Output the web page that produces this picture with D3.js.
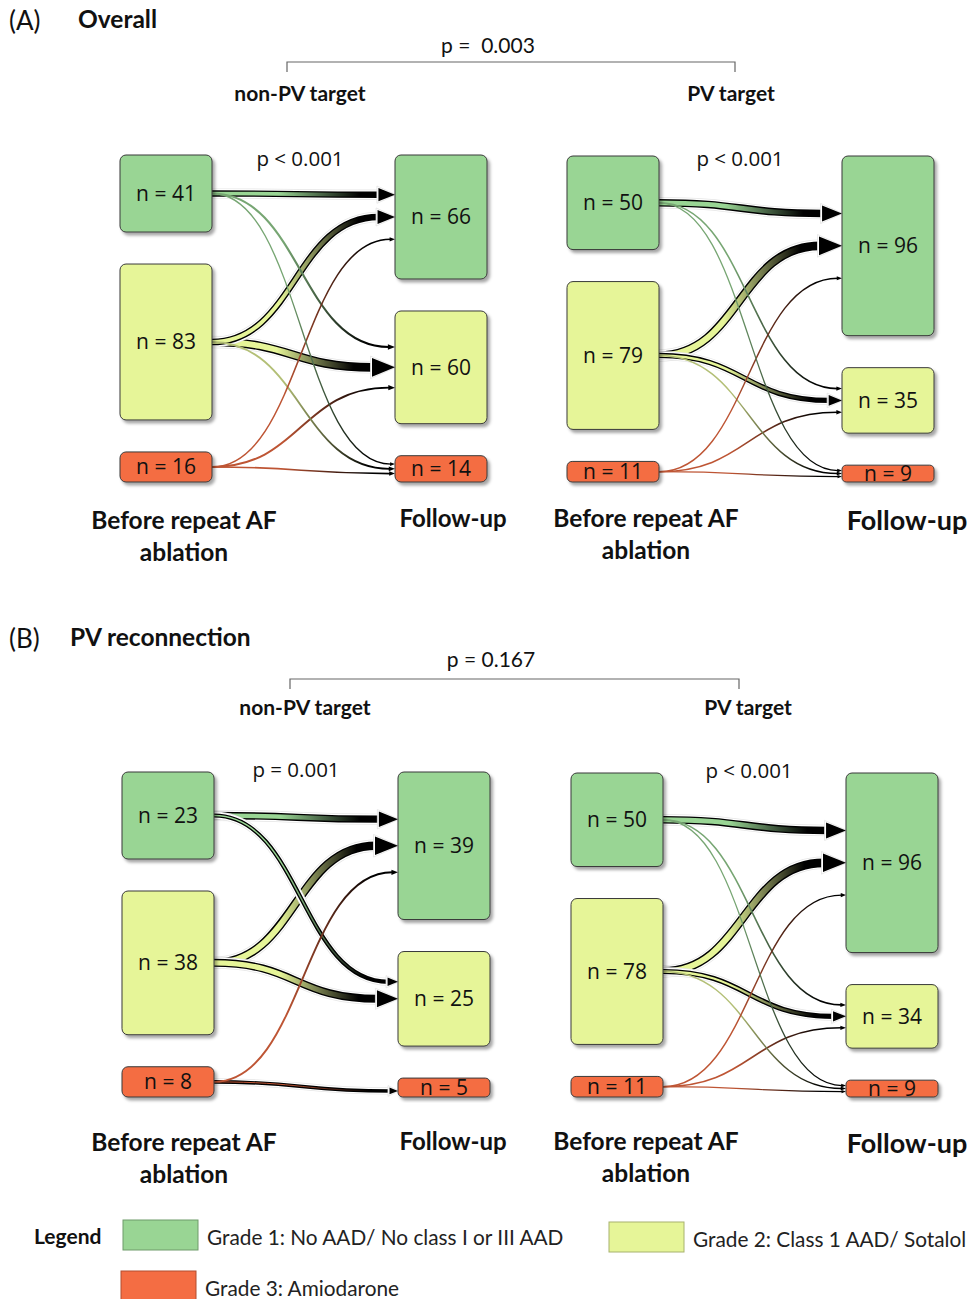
<!DOCTYPE html>
<html>
<head>
<meta charset="utf-8">
<script src="https://cdn.jsdelivr.net/npm/d3@7"></script>
<style>
  body { margin: 0; background: #fff; }
  svg { display: block; }
  text { white-space: pre; }
</style>
</head>
<body>
<svg id="chart"></svg>
<script>
// grades and their colours
const grades = ['Grade 1', 'Grade 2', 'Grade 3'];
const gradeColors = ['#99d594', '#e6f598', '#f46d43'];
const legendLabels = [
  'Grade 1: No AAD/ No class I or III AAD',
  'Grade 2: Class 1 AAD/ Sotalol',
  'Grade 3: Amiodarone',
];

// (A) overall, non-PV target
const overallNonPvBefore = [41, 83, 16];
const overallNonPvAfter = [66, 60, 14];
const overallNonPvFlows = [[30, 8, 3], [32, 45, 6], [4, 7, 5]];

// (A) overall, PV target
const overallPvBefore = [50, 79, 11];
const overallPvAfter = [96, 35, 9];
const overallPvFlows = [[42, 5, 3], [50, 25, 4], [4, 5, 2]];

// (B) PV reconnection, non-PV target
const reconNonPvBefore = [23, 38, 8];
const reconNonPvAfter = [39, 25, 5];
const reconNonPvFlows = [[16, 7, 0], [20, 18, 0], [3, 0, 5]];

// (B) PV reconnection, PV target
const reconPvBefore = [50, 78, 11];
const reconPvAfter = [96, 34, 9];
const reconPvFlows = [[42, 5, 3], [50, 24, 4], [4, 5, 2]];

// p-values and labels
const panelPValues = ['p < 0.001', 'p < 0.001', 'p = 0.001', 'p < 0.001'];
const groupPValues = ['p =  0.003', 'p = 0.167'];
const sectionLabels = ['(A)', '(B)'];
const sectionTitles = ['Overall', 'PV reconnection'];
const targetLabels = ['non-PV target', 'PV target'];

const cfg = {
  width: 971,
  height: 1299,
  nodeW: 92,
  gap: 32,
  calibri: 'Lato, "Open Sans", sans-serif',
  sans: '"Open Sans", "DejaVu Sans", sans-serif',
};

const panels = [
  { before: overallNonPvBefore, after: overallNonPvAfter, flows: overallNonPvFlows,
    srcX: 120, tgtX: 395, top: 155, bottom: 482, pX: 300, pY: 166,
    beforeX: 184, beforeY: 529, followX: 453, followY: 527, followSize: 24 },
  { before: overallPvBefore, after: overallPvAfter, flows: overallPvFlows,
    srcX: 567, tgtX: 842, top: 156, bottom: 482, pX: 740, pY: 166,
    beforeX: 646, beforeY: 527, followX: 907, followY: 530, followSize: 27 },
  { before: reconNonPvBefore, after: reconNonPvAfter, flows: reconNonPvFlows,
    srcX: 122, tgtX: 398, top: 772, bottom: 1097, pX: 296, pY: 777,
    beforeX: 184, beforeY: 1151, followX: 453, followY: 1150, followSize: 24 },
  { before: reconPvBefore, after: reconPvAfter, flows: reconPvFlows,
    srcX: 571, tgtX: 846, top: 773, bottom: 1097, pX: 749, pY: 778,
    beforeX: 646, beforeY: 1150, followX: 907, followY: 1153, followSize: 27 },
];

const sections = [
  { labelY: 30, titleX: 78, pX: 488, pY: 53, bracketY: 62, bx1: 287, bx2: 735,
    targetY: 101, targetX: [300, 731] },
  { labelY: 648, titleX: 70, pX: 491, pY: 667, bracketY: 679, bx1: 290, bx2: 739,
    targetY: 715, targetX: [305, 748] },
];

const svg = d3.select('#chart')
  .attr('width', cfg.width)
  .attr('height', cfg.height);

const defs = svg.append('defs');

// node drop shadow
const shadow = defs.append('filter')
  .attr('id', 'shadow')
  .attr('x', '-20%').attr('y', '-20%')
  .attr('width', '140%').attr('height', '150%');
shadow.append('feDropShadow')
  .attr('dx', 2.5).attr('dy', 3)
  .attr('stdDeviation', 1.6)
  .attr('flood-color', '#000')
  .attr('flood-opacity', 0.35);

// section headers, brackets and target labels
sections.forEach((s, si) => {
  svg.append('text')
    .text(sectionLabels[si])
    .attr('x', 9).attr('y', s.labelY)
    .style('font-family', cfg.calibri)
    .style('font-size', '26px')
    .attr('fill', '#111');

  svg.append('text')
    .text(sectionTitles[si])
    .attr('x', s.titleX).attr('y', s.labelY - 2)
    .style('font-family', cfg.calibri)
    .style('font-weight', 'bold')
    .style('font-size', '24.5px')
    .attr('fill', '#111');

  svg.append('text')
    .text(groupPValues[si])
    .attr('x', s.pX).attr('y', s.pY)
    .attr('text-anchor', 'middle')
    .style('font-family', cfg.calibri)
    .style('font-size', '21px')
    .attr('fill', '#111');

  svg.append('path')
    .attr('d', `M${s.bx1},${s.bracketY + 10}V${s.bracketY}H${s.bx2}V${s.bracketY + 10}`)
    .attr('fill', 'none')
    .attr('stroke', '#666')
    .attr('stroke-width', 1.2);

  targetLabels.forEach((t, ti) => {
    svg.append('text')
      .text(t)
      .attr('x', s.targetX[ti]).attr('y', s.targetY)
      .attr('text-anchor', 'middle')
      .style('font-family', cfg.calibri)
      .style('font-weight', 'bold')
      .style('font-size', '21px')
      .attr('fill', '#111');
  });
});

// draw one sankey-like panel
function drawPanel(p, pi) {
  const g = svg.append('g').attr('class', 'panel');
  const innerH = p.bottom - p.top - 2 * cfg.gap;

  const layout = values => {
    const total = d3.sum(values);
    const y = d3.scaleLinear().domain([0, total]).range([0, innerH]);
    let acc = 0;
    return values.map((v, i) => {
      const node = { value: v, grade: i, y0: p.top + y(acc) + i * cfg.gap };
      node.y1 = node.y0 + y(v);
      acc += v;
      return node;
    });
  };

  const srcNodes = layout(p.before);
  const tgtNodes = layout(p.after);

  // arrival point of each source inside a target node
  const arrive = d3.scaleLinear().domain([0, 2]).range([0.32, 0.68]);

  // flow widths
  const maxFlow = d3.max(p.flows.flat());
  const w = d3.scaleLinear().domain([0, maxFlow]).range([0.6, 7.5]);

  const links = [];
  p.flows.forEach((row, si) => {
    row.forEach((v, ti) => {
      if (v > 0) links.push({ source: si, target: ti, value: v });
    });
  });
  links.sort((a, b) => b.value - a.value);

  const x0 = p.srcX + cfg.nodeW;
  const x1 = p.tgtX;

  links.forEach((l, li) => {
    const s = srcNodes[l.source];
    const t = tgtNodes[l.target];
    const ys = (s.y0 + s.y1) / 2;
    const yt = t.y0 + (t.y1 - t.y0) * arrive(l.source);
    const lw = w(l.value);
    const arrowLen = 2.8 * lw + 2;
    const arrowHalf = 1.15 * lw + 0.7;
    const xe = x1 - arrowLen + 1;
    const xm = (x0 + xe) / 2;
    const d = `M${x0},${ys}C${xm},${ys} ${xm},${yt} ${xe},${yt}`;

    const gid = `grad-${pi}-${li}`;
    const base = gradeColors[l.source];
    const startCol = lw > 2.2 ? base : d3.color(base).darker(0.7).formatHex();
    const grad = defs.append('linearGradient')
      .attr('id', gid)
      .attr('gradientUnits', 'userSpaceOnUse')
      .attr('x1', x0).attr('y1', 0)
      .attr('x2', xe).attr('y2', 0);
    grad.append('stop').attr('offset', 0).attr('stop-color', startCol);
    grad.append('stop').attr('offset', 0.4).attr('stop-color', startCol);
    grad.append('stop').attr('offset', 0.88).attr('stop-color', '#000');

    const lg = g.append('g').attr('class', 'link');

    if (lw > 2.2) {
      // white halo
      lg.append('path').attr('d', d).attr('fill', 'none')
        .attr('stroke', '#e6e6e6').attr('stroke-width', lw + 5);
      lg.append('path').attr('d', d).attr('fill', 'none')
        .attr('stroke', '#fff').attr('stroke-width', lw + 3.6);
      // black outline
      lg.append('path').attr('d', d).attr('fill', 'none')
        .attr('stroke', '#000').attr('stroke-width', lw + 1.2);
      lg.append('path').attr('d', d).attr('fill', 'none')
        .attr('stroke', `url(#${gid})`).attr('stroke-width', Math.max(lw - 1.6, 0.8));
    } else {
      lg.append('path').attr('d', d).attr('fill', 'none')
        .attr('stroke', `url(#${gid})`).attr('stroke-width', lw + 0.3);
    }

    // arrow head
    const tip = [x1, yt];
    const ah = [[xe - 1, yt - arrowHalf], tip, [xe - 1, yt + arrowHalf]];
    if (lw > 2.2) {
      lg.append('polygon')
        .attr('points', [[xe - 2.5, yt - arrowHalf - 2], [x1 + 1, yt], [xe - 2.5, yt + arrowHalf + 2]].join(' '))
        .attr('fill', '#fff')
        .attr('stroke', '#e3e3e3')
        .attr('stroke-width', 0.8);
    }
    lg.append('polygon')
      .attr('points', ah.join(' '))
      .attr('fill', '#000');
  });

  // nodes
  const drawNodes = (nodes, x) => {
    const ng = g.selectAll(null)
      .data(nodes)
      .enter()
      .append('g');

    ng.append('rect')
      .attr('x', x)
      .attr('y', d => d.y0)
      .attr('width', cfg.nodeW)
      .attr('height', d => d.y1 - d.y0)
      .attr('rx', d => Math.min(6, (d.y1 - d.y0) / 4))
      .attr('fill', d => gradeColors[d.grade])
      .attr('stroke', '#3a3a3a')
      .attr('stroke-width', 1)
      .attr('filter', 'url(#shadow)');

    ng.append('text')
      .text(d => 'n = ' + d.value)
      .attr('x', x + cfg.nodeW / 2)
      .attr('y', d => (d.y0 + d.y1) / 2 + 7.5)
      .attr('text-anchor', 'middle')
      .style('font-family', cfg.sans)
      .style('font-size', '21px')
      .attr('fill', '#111');
  };
  drawNodes(srcNodes, p.srcX);
  drawNodes(tgtNodes, p.tgtX);

  // p-value
  svg.append('text')
    .text(panelPValues[pi])
    .attr('x', p.pX).attr('y', p.pY)
    .attr('text-anchor', 'middle')
    .style('font-family', cfg.sans)
    .style('font-size', '20.5px')
    .attr('fill', '#111');

  // axis captions
  const before = svg.append('text')
    .attr('text-anchor', 'middle')
    .style('font-family', cfg.calibri)
    .style('font-weight', 'bold')
    .style('font-size', '24.5px')
    .attr('fill', '#111');
  before.append('tspan').attr('x', p.beforeX).attr('y', p.beforeY).text('Before repeat AF');
  before.append('tspan').attr('x', p.beforeX).attr('y', p.beforeY + 32).text('ablation');

  svg.append('text')
    .text('Follow-up')
    .attr('x', p.followX).attr('y', p.followY)
    .attr('text-anchor', 'middle')
    .style('font-family', cfg.calibri)
    .style('font-weight', 'bold')
    .style('font-size', p.followSize + 'px')
    .attr('fill', '#111');
}

panels.forEach(drawPanel);

// legend
const legend = svg.append('g').attr('class', 'legend');
legend.append('text')
  .text('Legend')
  .attr('x', 34).attr('y', 1244)
  .style('font-family', cfg.calibri)
  .style('font-weight', 'bold')
  .style('font-size', '21px')
  .attr('fill', '#111');

const legendPos = [
  { x: 123, y: 1220 },
  { x: 609, y: 1222 },
  { x: 121, y: 1271 },
];
grades.forEach((gr, i) => {
  const pos = legendPos[i];
  legend.append('rect')
    .attr('x', pos.x).attr('y', pos.y)
    .attr('width', 75).attr('height', 30)
    .attr('fill', gradeColors[i])
    .attr('stroke', d3.color(gradeColors[i]).darker(0.9))
    .attr('stroke-width', 1);
  legend.append('text')
    .text(legendLabels[i])
    .attr('x', pos.x + 84).attr('y', pos.y + 25)
    .style('font-family', cfg.calibri)
    .style('font-size', '20.8px')
    .attr('fill', '#222');
});
</script>
</body>
</html>
